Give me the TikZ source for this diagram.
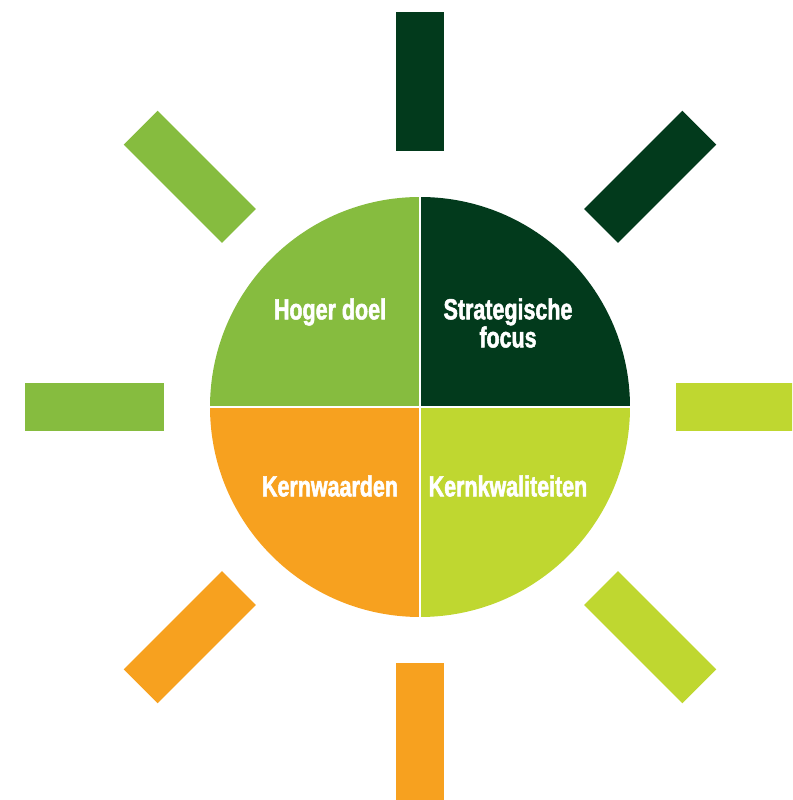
\documentclass[tikz,border=0pt]{standalone}
\usepackage{fontspec}
\setmainfont{Liberation Sans}[FakeStretch=0.74]
\newfontfamily\lblfont{Liberation Sans Bold}[FakeStretch=0.74,FakeBold=1.8]
\definecolor{cLight}{HTML}{86BC3F}
\definecolor{cDark}{HTML}{023A1C}
\definecolor{cLime}{HTML}{BFD730}
\definecolor{cOrange}{HTML}{F7A11F}
\tikzset{
  ray/.style={fill=#1, draw=none},
  quarter/.style={fill=#1, draw=none},
  lbl/.style={text=white, font=\lblfont\fontsize{29}{24}\selectfont, align=center, inner sep=0pt}
}
\begin{document}
\begin{tikzpicture}[x=1pt,y=1pt]
\useasboundingbox (0,0) rectangle (792,800);
\clip (0,0) rectangle (792,800);
\coordinate (c) at (420,393);
% rays
\foreach \ang/\col in {90/cDark,45/cDark,0/cLime,-45/cLime,-90/cOrange,-135/cOrange,180/cLight,135/cLight}{
  \fill[ray=\col, shift={(c)}, rotate=\ang] (256,-24) rectangle (395,24);
}
% quarters
\fill[quarter=cLight] (c) -- ++(0,210) arc[start angle=90,end angle=180,radius=210] -- cycle;
\fill[quarter=cDark] (c) -- ++(210,0) arc[start angle=0,end angle=90,radius=210] -- cycle;
\fill[quarter=cLime] (c) -- ++(0,-210) arc[start angle=-90,end angle=0,radius=210] -- cycle;
\fill[quarter=cOrange] (c) -- ++(-210,0) arc[start angle=180,end angle=270,radius=210] -- cycle;
\draw[white, line width=2pt] (c) ++(-211,0) -- ++(422,0);
\draw[white, line width=2pt] (c) ++(0,-211) -- ++(0,422);
% labels
\node[lbl] (hd) at (330,488) {Hoger doel};
\node[lbl] (sf) at (508,477) {Strategische\\focus};
\node[lbl] (kw) at (330,314) {Kernwaarden};
\node[lbl] (kk) at (508,314) {Kernkwaliteiten};
\end{tikzpicture}
\end{document}
